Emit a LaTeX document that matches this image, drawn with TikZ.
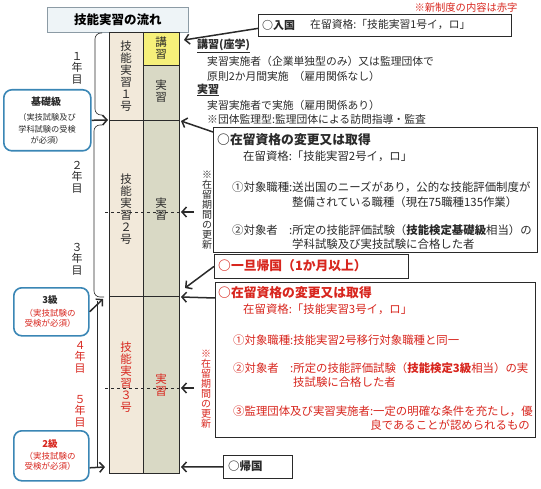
\documentclass[tikz,border=0pt]{standalone}
\usepackage{fontspec}
\setmainfont{Noto Sans CJK JP}
\usetikzlibrary{arrows.meta}
\definecolor{jred}{HTML}{D8261E}
\definecolor{jblue}{HTML}{3A86B5}
\definecolor{jbeige}{HTML}{F2E9DA}
\definecolor{jsage}{HTML}{D9D9C5}
\definecolor{jyel}{HTML}{F6F07A}
\definecolor{jdark}{HTML}{2A2A2A}
\definecolor{jtitle}{HTML}{EEF4F7}
\definecolor{jtitleb}{HTML}{8C9BA5}
\tikzset{
  txt/.style={inner sep=0pt, anchor=west, text=jdark, font=\fontsize{10.8}{13}\selectfont},
  wtxt/.style={txt, font=\fontsize{11.4}{13}\selectfont},
  rtxt/.style={wtxt, text=jred},
  btxt/.style={txt, font=\fontsize{12.8}{14}\selectfont\bfseries},
  vtxt/.style={inner sep=0pt, align=center, text=jdark, font=\fontsize{11.5}{12}\selectfont},
  ytxt/.style={inner sep=0pt, align=center, text=jdark, font=\fontsize{11}{11.5}\selectfont},
  ntxt/.style={inner sep=0pt, align=center, text=jdark, font=\fontsize{10}{10}\selectfont},
  infobox/.style={draw=jdark, line width=0.8pt, fill=white, anchor=north west, inner sep=0pt},
  levelbox/.style={draw=jblue, line width=1.6pt, fill=white, rounded corners=8pt, anchor=north west, inner sep=0pt},
  colline/.style={draw=jdark, line width=0.9pt},
  arr/.style={draw=jdark, line width=1.5pt, -{Straight Barb[length=4.5pt,width=10pt]}},
  brk/.style={draw=jdark, line width=0.6pt, rounded corners=6pt},
}
\begin{document}
\begin{tikzpicture}[x=1pt,y=-1pt]
\useasboundingbox (0,0) rectangle (541,489);

% title
\node[draw=jtitleb, line width=0.6pt, fill=jtitle, minimum width=141pt, minimum height=25pt,
      anchor=north west, inner sep=0pt, font=\fontsize{12.5}{14}\selectfont\bfseries] (title) at (47,7) {技能実習の流れ};
\node[inner sep=0pt, text=jred, font=\fontsize{10.3}{12}\selectfont] (note) at (466,8) {※新制度の内容は赤字};

% column
\fill[jbeige] (109,32) rectangle (143,473);
\fill[jsage] (143,32) rectangle (179,473);
\fill[jyel] (143,32) rectangle (179,65);
\draw[colline] (109,32) rectangle (179,473);
\draw[colline] (143,32) -- (143,473);
\draw[colline] (143,65) -- (179,65);
\draw[colline] (109,120) -- (179,120);
\draw[colline] (109,296) -- (179,296);
\draw[draw=jdark, line width=0.8pt, dashed] (105,212) -- (180,212);
\draw[draw=jdark, line width=0.8pt, dashed] (105,388) -- (180,388);

\coordinate (top1) at (184,40);
\coordinate (mid12) at (181,121);
\coordinate (left12) at (108,120);
\coordinate (ret) at (185,288);
\coordinate (mid23) at (181,297);
\coordinate (left23) at (103,299);
\coordinate (bot) at (181,467);
\coordinate (leftbot) at (105,467);
\coordinate (d2) at (181,212);
\coordinate (d2s) at (194,212);
\coordinate (d3) at (181,388);
\coordinate (d3s) at (194,388);

% column texts
\node[vtxt] (g1) at (126,76) {技\\能\\実\\習\\１\\号};
\node[vtxt] (k1) at (161,48) {講\\習};
\node[vtxt] (j1) at (161,91) {実\\習};
\node[vtxt] (g2) at (126,209) {技\\能\\実\\習\\２\\号};
\node[vtxt] (j2) at (161,209) {実\\習};
\node[vtxt, text=jred] (g3) at (126,377) {技\\能\\実\\習\\３\\号};
\node[vtxt, text=jred] (j3) at (161,385) {実\\習};

% brackets
\draw[brk] (102,33) -- (95,33) -- (95,115) -- (102,115);
\draw[brk] (102,125) -- (94,125) -- (94,297) -- (104,297);
\draw[draw=jdark, line width=0.6pt] (97,301) -- (97,467);

% year labels
\node[ytxt] (y1) at (77,68) {１\\年\\目};
\node[ytxt] (y2) at (77,177) {２\\年\\目};
\node[ytxt] (y3) at (77,259) {３\\年\\目};
\node[ytxt, text=jred] (y4) at (80,357) {４\\年\\目};
\node[ytxt, text=jred] (y5) at (80,411) {５\\年\\目};

% level boxes
\node[levelbox, minimum width=87pt, minimum height=61pt] (kiso) at (3,89) {};
\node[inner sep=0pt, text=jdark, font=\fontsize{10}{12}\selectfont\bfseries] (kisot) at (46,102) {基礎級};
\node[inner sep=0pt, align=center, text=jdark, font=\fontsize{8.2}{11.5}\selectfont] (kisos) at (47,129) {（実技試験及び\\学科試験の受検\\が必須）};
\node[levelbox, minimum width=75pt, minimum height=48pt] (san) at (13,287) {};
\node[inner sep=0pt, text=jdark, font=\fontsize{9.5}{11}\selectfont\bfseries] (sant) at (50,300) {3級};
\node[inner sep=0pt, align=center, text=jred, font=\fontsize{8.5}{10}\selectfont] (sans) at (50,318.5) {（実技試験の\\受検が必須）};
\node[levelbox, minimum width=75pt, minimum height=50pt] (ni) at (13,430) {};
\node[inner sep=0pt, text=jred, font=\fontsize{9.5}{11}\selectfont\bfseries] (nit) at (50,444) {2級};
\node[inner sep=0pt, align=center, text=jred, font=\fontsize{8.5}{10}\selectfont] (nis) at (50,461) {（実技試験の\\受検が必須）};

\draw[arr] (kiso.east) -- (left12);
\draw[arr] (san.east) -- (left23);
\draw[arr] ([yshift=-12pt]ni.east) -- (leftbot);

% update notes
\node[ntxt] (up1) at (207,210) {※\\在\\留\\期\\間\\の\\更\\新};
\node[ntxt, text=jred] (up2) at (206,389) {※\\在\\留\\期\\間\\の\\更\\新};
\draw[arr] (d2s) -- (d2);
\draw[arr] (d3s) -- (d3);

% box entry
\node[infobox, minimum width=253pt, minimum height=22pt] (nyu) at (258,14) {};
\node[txt, font=\fontsize{11}{13}\selectfont\bfseries] (nyut) at (262,25) {○入国};
\node[txt] (nyus) at (310,25) {在留資格:「技能実習1号イ，ロ」};
\draw[arr] ([yshift=-3pt]nyu.west) -- (top1);

% text block 1
\node[txt, font=\fontsize{11}{13}\selectfont\bfseries] (h1) at (197,46) {\underline{講習(座学)}};
\node[txt] (l1) at (207,61) {実習実施者（企業単独型のみ）又は監理団体で};
\node[txt] (l2) at (207,76) {原則2か月間実施\ \ （雇用関係なし）};
\node[txt, font=\fontsize{11}{13}\selectfont\bfseries] (h2) at (197,90) {\underline{実習}};
\node[txt] (l3) at (207,105) {実習実施者で実施（雇用関係あり）};
\node[txt] (l4) at (207,119) {※団体監理型:監理団体による訪問指導・監査};

% box 2
\node[infobox, minimum width=324pt, minimum height=125pt] (b2) at (213,127) {};
\node[btxt] (b2h) at (217,140) {○在留資格の変更又は取得};
\node[wtxt] (b2a) at (243,156) {在留資格:「技能実習2号イ，ロ」};
\node[wtxt] (b2b) at (232,187) {①対象職種:送出国のニーズがあり，公的な技能評価制度が};
\node[wtxt] (b2c) at (292,202) {整備されている職種（現在75職種135作業）};
\node[wtxt] (b2d) at (232,230) {\makebox[57pt][l]{②対象者}:所定の技能評価試験（\textbf{技能検定基礎級}相当）の};
\node[wtxt] (b2e) at (292,244) {学科試験及び実技試験に合格した者};
\draw[arr] ([yshift=-5pt]b2.north west) -- (mid12);

% temporary return
\node[infobox, minimum width=194pt, minimum height=24pt] (tmp) at (214,254) {};
\node[btxt, text=jred] (tmpt) at (218,266) {○一旦帰国（1か月以上）};
\draw[arr] (tmp.west) -- (ret);

% box 3
\node[infobox, minimum width=320pt, minimum height=155pt] (b3) at (215,282) {};
\node[btxt, text=jred] (b3h) at (218,293) {○在留資格の変更又は取得};
\node[rtxt] (b3a) at (243,309) {在留資格:「技能実習3号イ，ロ」};
\node[rtxt] (b3b) at (233,340) {①対象職種:技能実習2号移行対象職種と同一};
\node[rtxt] (b3c) at (233,368) {\makebox[57pt][l]{②対象者}:所定の技能評価試験（\textbf{技能検定3級}相当）の実};
\node[rtxt] (b3d) at (293,382) {技試験に合格した者};
\node[rtxt] (b3e) at (233,411) {③監理団体及び実習実施者:一定の明確な条件を充たし，優};
\node[rtxt, anchor=east] (b3f) at (530,425) {良であることが認められるもの};
\draw[arr] ([yshift=-16pt]b3.north west) -- (mid23);

% final return
\node[infobox, minimum width=69pt, minimum height=23pt] (kik) at (223,455) {};
\node[txt, font=\fontsize{11.5}{13}\selectfont\bfseries] (kikt) at (228,466.5) {○帰国};
\draw[arr] (kik.west) -- (bot);
\end{tikzpicture}
\end{document}
